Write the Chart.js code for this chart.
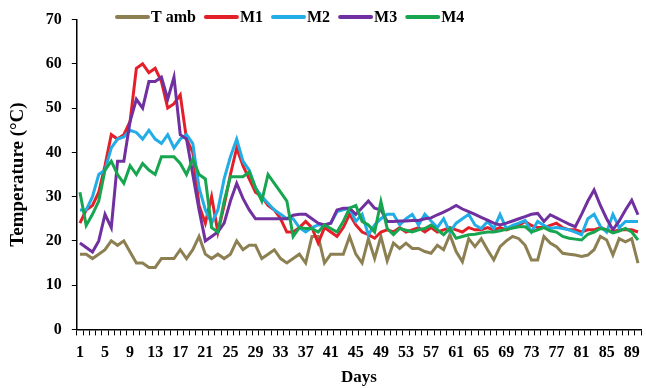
<!DOCTYPE html>
<html lang="en">
<head>
  <meta charset="utf-8">
  <title>Temperature by day</title>
  <script src="https://cdn.jsdelivr.net/npm/chart.js@4.4.3/dist/chart.umd.min.js"></script>
  <style>
    html, body { margin: 0; padding: 0; background: #fff; }
    .chart-box { width: 646px; height: 388px; }
  </style>
</head>
<body>
  <div class="chart-box">
    <canvas id="tempChart"></canvas>
  </div>

  <script>
    // days 1..90
    const days = [];
    for (let d = 1; d <= 90; d++) days.push(String(d));

    const yTicks = [0, 10, 20, 30, 40, 50, 60, 70];

    const tAmb = [
      17, 17, 16, 17, 18, 20, 19, 20, 17.5, 15, 15, 14, 14, 16, 16, 16, 18, 16, 18, 21,
      17, 16, 17, 16, 17, 20, 18, 19, 19, 16, 17, 18, 16, 15, 16, 17, 15, 21, 21, 15,
      17, 17, 17, 21, 17, 15, 20.5, 16, 21, 15.5, 19.5, 18.3, 19.5, 18.3, 18.3, 17.6, 17.2, 19, 18, 21.4,
      17.6, 15.3, 20.5, 18.7, 20.5, 18, 15.7, 18.7, 20, 21, 20.5, 19, 15.7, 15.7, 21, 19.5, 18.7, 17.2, 17, 16.8,
      16.5, 16.8, 18, 21, 20.2, 16.8, 20.5, 19.8, 20.5, 15
    ];
    const m1 = [
      24, 27, 28, 31, 37, 44, 43, 44, 47, 59, 60, 58, 59, 56, 50, 51, 53, 43, 40, 28,
      24, 30, 22, 28, 35, 41, 37, 34, 31, 30, 28, 27, 25, 22, 22, 23, 24.4, 23, 19.5, 23,
      22, 21, 23, 26, 23.6, 22, 21.4, 20.6, 22, 22.5, 22, 23, 22, 22.5, 23, 22, 23, 22, 22.5, 23,
      22.5, 22, 23, 22.5, 22.5, 23, 22.5, 23, 22.5, 23, 23.5, 24.4, 23.5, 23, 23, 23.5, 24, 23, 22.5, 22.5,
      22, 22.5, 22.5, 23, 22.5, 22, 22.5, 22.5, 22.5, 22
    ];
    const m2 = [
      27, 27, 30, 35, 36, 41, 43, 43.5, 45, 44.5, 43, 45, 43, 42, 44, 41, 43, 44, 42, 32,
      27, 24, 27, 34, 39, 43, 38, 36, 32, 30, 28.5, 27, 26, 25, 25, 23, 22, 23, 23.6, 23.6,
      24, 26.6, 27, 27.4, 24.4, 26, 21.4, 23.6, 25, 26, 26, 23.6, 25, 26, 23.6, 26, 24.5, 23, 25, 22,
      24, 25, 26, 23.6, 22.8, 24.4, 22.8, 26, 22.8, 23.5, 24, 24.6, 22, 24.4, 23.5, 22.8, 23, 22.8, 22.5, 22,
      21.4, 25, 26, 23.3, 22, 26, 23, 24.4, 24.4, 24.4
    ];
    const m3 = [
      19.5, 18.5, 17.5, 20, 26, 23, 38, 38, 47, 52, 50, 56, 56, 57, 52, 57, 44, 43, 35, 27,
      20, 21, 22, 24, 29, 33, 29.6, 27, 25, 25, 25, 25, 25, 25, 25.8, 26, 26, 25, 24, 23.6,
      24, 27, 27.4, 27.4, 26, 27.5, 29, 27.4, 27, 24.4, 24.4, 24.5, 24.5, 24.6, 24.6, 25, 25.2, 25.9, 26.5, 27.2,
      28, 27.2, 26.6, 26, 25.3, 24.7, 24, 23.6, 24, 24.5, 25, 25.5, 26, 26.2, 24.4, 25.9, 25.2, 24.5, 23.8, 23.2,
      26, 29, 31.5, 28, 25, 22.5, 24.5, 27, 29.2, 25.9
    ];
    const m4 = [
      31, 23.5, 26, 29, 36, 38, 35, 33, 37, 35, 37.5, 36, 35, 39, 39, 39, 37.5, 35, 38.5, 35,
      34, 23, 22, 29, 34.5, 34.5, 34.5, 35.6, 32, 29, 35, 33, 31, 29, 21, 23, 22.8, 22.8, 22, 23.6,
      22.8, 22, 24.4, 27.4, 28, 24.4, 23.6, 22, 28.9, 22.8, 21.4, 22.8, 22.4, 22, 22.5, 22.8, 23.6, 22.5, 21.4, 22.8,
      20.6, 21, 21.4, 21.5, 21.8, 22, 22, 22.3, 22.6, 22.9, 23.2, 23.2, 22, 22.5, 23, 22.3, 22, 21, 20.6, 20.4,
      20.2, 21.5, 22, 22.8, 22.5, 21.8, 22.2, 22.8, 22, 20.2
    ];

    const seriesNames = ['T amb', 'M1', 'M2', 'M3', 'M4'];
    const seriesData = [tAmb, m1, m2, m3, m4];
    const seriesColors = ['#8c8052', '#e3202a', '#22ade6', '#7030a0', '#17a64f'];

    const serif = "'Liberation Serif', 'Times New Roman', serif";

    // legend drawn inside the plot, lined up like the original
    const lineLegend = {
      id: 'lineLegend',
      afterDraw(chart) {
        const ctx = chart.ctx;
        ctx.save();
        ctx.font = 'bold 16px ' + serif;
        ctx.textBaseline = 'middle';
        let x = 117;
        const y = 17;
        chart.data.datasets.forEach(ds => {
          ctx.strokeStyle = ds.borderColor;
          ctx.lineWidth = 4;
          ctx.lineCap = 'round';
          ctx.beginPath();
          ctx.moveTo(x, y);
          ctx.lineTo(x + 31, y);
          ctx.stroke();
          ctx.fillStyle = '#000';
          ctx.fillText(ds.label, x + 34, y + 1);
          x += 34 + ctx.measureText(ds.label).width + 10;
        });
        ctx.restore();
      }
    };

    const datasets = seriesNames.map((name, i) => ({
      label: name,
      data: seriesData[i],
      borderColor: seriesColors[i],
      backgroundColor: seriesColors[i],
      borderWidth: 3,
      pointRadius: 0,
      tension: 0,
      order: seriesNames.length - i
    }));

    new Chart(document.getElementById('tempChart'), {
      type: 'line',
      data: { labels: days, datasets: datasets },
      plugins: [lineLegend],
      options: {
        responsive: true,
        maintainAspectRatio: false,
        animation: false,
        layout: { padding: { top: 9, right: 1, bottom: 0, left: 7 } },
        plugins: {
          legend: { display: false },
          tooltip: { enabled: false }
        },
        scales: {
          x: {
            type: 'category',
            offset: true,
            grid: { offset: true, drawOnChartArea: false, tickLength: 6, color: '#000', lineWidth: 1 },
            border: { color: '#000', width: 1.5 },
            ticks: {
              autoSkip: false,
              maxRotation: 0,
              padding: 8,
              color: '#000',
              font: { family: serif, size: 16, weight: 'bold' },
              callback: (v, i) => (i % 4 === 0 ? days[i] : '')
            },
            title: {
              display: true,
              text: 'Days',
              color: '#000',
              padding: { top: -3, bottom: 0 },
              font: { family: serif, size: 17, weight: 'bold' }
            }
          },
          y: {
            min: yTicks[0],
            max: yTicks[yTicks.length - 1],
            grid: { drawOnChartArea: false, tickLength: 5, color: '#000', lineWidth: 1 },
            border: { color: '#000', width: 1.5 },
            ticks: {
              stepSize: yTicks[1] - yTicks[0],
              padding: 10,
              color: '#000',
              font: { family: serif, size: 16, weight: 'bold' }
            },
            title: {
              display: true,
              text: 'Temperature (°C)',
              color: '#000',
              padding: { top: 0, bottom: 6 },
              font: { family: serif, size: 19, weight: 'bold' }
            }
          }
        }
      }
    });
  </script>
</body>
</html>
